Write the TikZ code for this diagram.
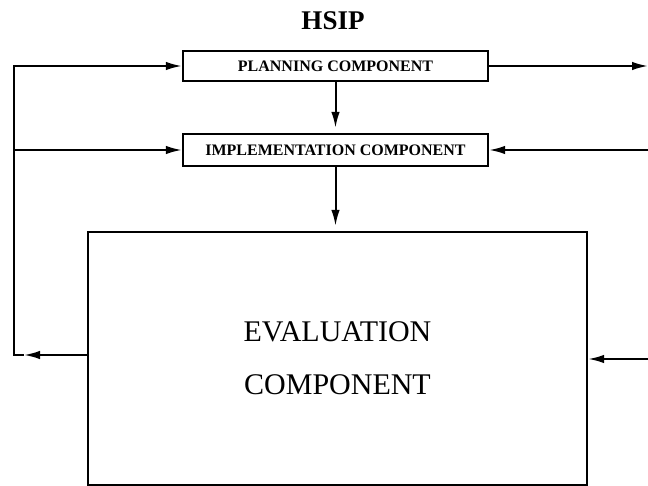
\documentclass[tikz,border=0pt]{standalone}
\usepackage{fontspec}
\setmainfont{Liberation Serif}
\usetikzlibrary{arrows.meta}
\begin{document}
\begin{tikzpicture}[x=1pt,y=-1pt,
  box/.style={draw, line width=2.3pt, inner sep=0pt, font=\bfseries\fontsize{16}{18}\selectfont},
  arr/.style={line width=2pt, -{Latex[length=16pt,width=8.5pt]}}]
\useasboundingbox (0,0) rectangle (648,486);
\node[font=\bfseries\fontsize{27}{30}\selectfont] (title) at (333,21) {HSIP};
\node[box, minimum width=305pt, minimum height=30pt] (plan) at (335.5,66) {PLANNING COMPONENT};
\node[box, minimum width=305pt, minimum height=32pt] (impl) at (335.5,150) {IMPLEMENTATION COMPONENT};
\node[box, minimum width=499pt, minimum height=253pt, align=center, font=\fontsize{30}{53}\selectfont] (eval) at (337.5,358.5) {EVALUATION\\COMPONENT};
% loose ends of the feedback lines
\coordinate (ltip) at (24,355);
\coordinate (lbot) at (14,355);
\coordinate (lmid) at (14,150);
\coordinate (rtop) at (648,66);
\coordinate (rmid) at (648,150);
\coordinate (rbot) at (648,359);
\draw[arr] (eval.west |- ltip) -- (ltip);
\draw[arr] (ltip) -- (lbot) |- (plan.west);
\draw[arr] (lmid) -- (impl.west);
\draw[arr] (plan.east) -- (rtop);
\draw[arr] (rmid) -- (impl.east);
\draw[arr] (rbot) -- (eval.east |- rbot);
\draw[arr, shorten >=5pt] (plan.south) -- (impl.north);
\draw[arr, shorten >=5pt] (impl.south) -- (impl.south |- eval.north);
\end{tikzpicture}
\end{document}
